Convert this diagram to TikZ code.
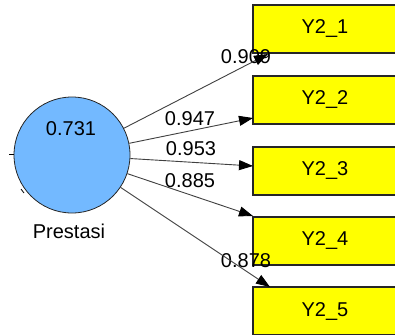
\documentclass[tikz,border=0pt]{standalone}
\usepackage{fontspec}
\setmainfont{Liberation Sans}
\usetikzlibrary{arrows.meta}
\usetikzlibrary{positioning,calc}
\definecolor{latentblue}{RGB}{115,185,255}
\definecolor{itemyellow}{RGB}{255,255,0}

\begin{document}
\begin{tikzpicture}[x=1pt,y=-1pt,
         font=\fontsize{20}{24}\selectfont,
         latent/.style = {circle,draw=black!85,thick,fill=latentblue,
            minimum size=116pt,inner sep=0pt},
         indicator/.style = {rectangle,draw=black!85,line width=1.3pt,
            fill=itemyellow,minimum width=156pt,minimum height=48pt,
            inner sep=0pt},
         loading/.style = {draw=black!75,line width=0.9pt,
            -{Triangle[length=14pt,width=10pt,fill=black,color=black]}},
         weight/.style = {inner sep=0pt}
]
   \useasboundingbox (0,0) rectangle (395,334);
   \clip (0,0) rectangle (395,334);
   \fill[white] (0,0) rectangle (395,334);

   \node[latent] (prestasi) at (72,155) {};
   \node (rsq) at (71,129) {0.731};
   \node (name) at (69,231) {Prestasi};

   % small marks left of the circle
   \coordinate (m1) at (9,154);
   \coordinate (m2) at (14,154);
   \draw[thick] (m1) -- (m2);
   \coordinate (m3) at (21,189);
   \coordinate (m4) at (24,193);
   \draw[thick] (m3) -- (m4);

   \node[indicator] (y1) at (331,29)  {\hspace*{-12pt}Y2\_1};
   \node[indicator] (y2) at (331,100) {\hspace*{-12pt}Y2\_2};
   \node[indicator] (y3) at (331,171) {\hspace*{-12pt}Y2\_3};
   \node[indicator] (y4) at (331,241) {\hspace*{-12pt}Y2\_4};
   \node[indicator] (y5) at (331,311) {\hspace*{-12pt}Y2\_5};

   \coordinate (e1) at (268,54);
   \coordinate (e2) at (253,118);
   \coordinate (e3) at (253,166);
   \coordinate (e4) at (253,216);
   \coordinate (e5) at (270,287);

   \node[weight] (w1) at (246,57)  {0.909};
   \node[weight] (w2) at (190,119) {0.947};
   \node[weight] (w3) at (191,149) {0.953};
   \node[weight] (w4) at (190,181) {0.885};
   \node[weight] (w5) at (246,261) {0.878};

   \foreach \i in {1,...,5}
      \draw[loading] (prestasi) -- (e\i);
\end{tikzpicture}
\end{document}
